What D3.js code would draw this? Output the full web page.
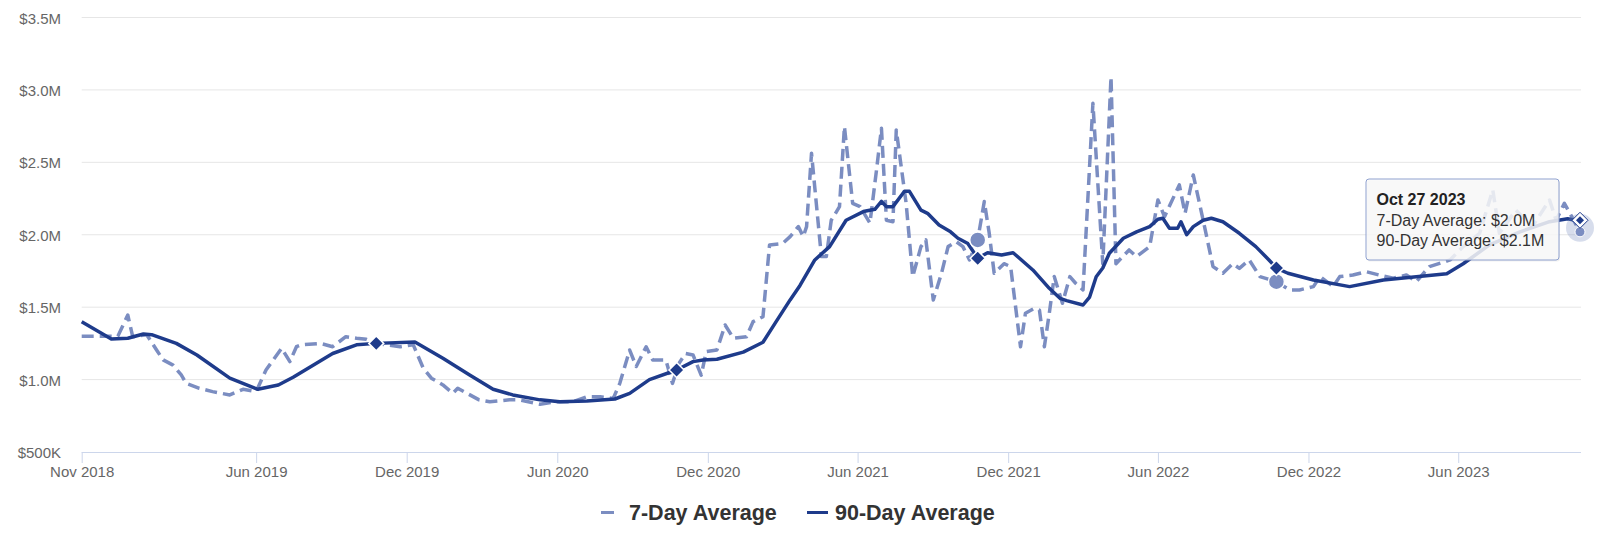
<!DOCTYPE html>
<html>
<head>
<meta charset="utf-8">
<script src="https://cdn.jsdelivr.net/npm/d3@7"></script>
<style>
  html, body { margin: 0; padding: 0; background: #ffffff; }
  svg { display: block; font-family: "Liberation Sans", Arial, Helvetica, sans-serif; }
</style>
</head>
<body>
<svg id="chart" width="1600" height="538"></svg>
<script>
// ---------------- DATA (values in $ millions) ----------------
const seriesNames = ["7-Day Average", "90-Day Average"];

const sevenDay = [
  ["2018-11-01",1.30],["2018-11-23",1.30],["2018-12-15",1.30],["2018-12-27",1.446],["2019-01-02",1.296],
  ["2019-01-19",1.31],["2019-01-31",1.204],["2019-02-08",1.136],["2019-02-20",1.10],["2019-03-02",1.032],
  ["2019-03-08",0.974],["2019-03-24",0.94],["2019-04-09",0.917],["2019-04-30",0.894],["2019-05-16",0.933],
  ["2019-06-01",0.917],["2019-06-13",1.066],["2019-07-02",1.216],["2019-07-12",1.124],["2019-07-20",1.227],
  ["2019-07-26",1.24],["2019-08-18",1.25],["2019-09-02",1.227],["2019-09-18",1.296],["2019-10-01",1.285],
  ["2019-10-13",1.278],["2019-10-25",1.25],["2019-11-23",1.227],["2019-12-09",1.24],["2019-12-21",1.08],
  ["2019-12-31",1.01],["2020-01-14",0.963],["2020-01-26",0.905],["2020-02-01",0.94],["2020-02-27",0.86],
  ["2020-03-11",0.847],["2020-04-04",0.86],["2020-04-16",0.86],["2020-05-11",0.83],["2020-05-31",0.847],
  ["2020-06-20",0.847],["2020-07-07",0.882],["2020-07-23",0.882],["2020-08-08",0.87],["2020-08-16",0.974],
  ["2020-08-28",1.204],["2020-09-05",1.09],["2020-09-17",1.227],["2020-09-25",1.135],["2020-10-11",1.135],
  ["2020-10-19",0.974],["2020-10-27",1.113],["2020-11-04",1.18],["2020-11-13",1.17],["2020-11-23",1.03],
  ["2020-11-29",1.193],["2020-12-12",1.204],["2020-12-22",1.377],["2021-01-01",1.285],["2021-01-17",1.296],
  ["2021-01-25",1.40],["2021-02-06",1.434],["2021-02-14",1.93],["2021-03-02",1.94],["2021-03-11",1.987],
  ["2021-03-21",2.056],["2021-03-27",1.987],["2021-03-31",2.056],["2021-04-06",2.563],["2021-04-18",1.849],
  ["2021-04-24",1.849],["2021-04-30",2.10],["2021-05-10",2.194],["2021-05-16",2.747],["2021-05-26",2.217],
  ["2021-06-04",2.194],["2021-06-16",2.08],["2021-06-24",2.447],["2021-06-30",2.735],["2021-07-06",2.10],
  ["2021-07-14",2.09],["2021-07-18",2.724],["2021-07-30",2.217],["2021-08-07",1.711],["2021-08-17",1.918],
  ["2021-08-23",1.964],["2021-09-01",1.55],["2021-09-11",1.734],["2021-09-19",1.918],["2021-09-29",1.952],
  ["2021-10-07",1.918],["2021-10-15",1.826],["2021-10-25",1.964],["2021-11-02",2.23],["2021-11-08",2.01],
  ["2021-11-14",1.734],["2021-11-26",1.80],["2021-12-04",1.78],["2021-12-16",1.227],["2021-12-22",1.458],
  ["2022-01-02",1.492],["2022-01-08",1.48],["2022-01-14",1.227],["2022-01-20",1.458],["2022-01-26",1.711],
  ["2022-02-05",1.527],["2022-02-14",1.711],["2022-02-21",1.665],["2022-03-02",1.619],["2022-03-14",2.908],
  ["2022-03-26",1.80],["2022-04-05",3.09],["2022-04-11",1.80],["2022-04-27",1.895],["2022-05-06",1.849],
  ["2022-05-22",1.918],["2022-06-01",2.24],["2022-06-09",2.125],["2022-06-27",2.344],["2022-07-04",2.148],
  ["2022-07-14",2.413],["2022-07-26",2.10],["2022-08-07",1.78],["2022-08-19",1.734],["2022-08-31",1.80],
  ["2022-09-08",1.768],["2022-09-20",1.826],["2022-10-03",1.711],["2022-10-23",1.676],["2022-11-08",1.619],
  ["2022-11-20",1.619],["2022-12-07",1.642],["2022-12-15",1.711],["2022-12-31",1.642],["2023-01-08",1.711],
  ["2023-01-24",1.722],["2023-02-09",1.745],["2023-02-25",1.722],["2023-03-14",1.70],["2023-03-30",1.722],
  ["2023-04-11",1.676],["2023-04-27",1.78],["2023-05-22",1.826],["2023-06-07",1.918],["2023-06-27",2.01],
  ["2023-07-13",2.31],["2023-07-21",2.01],["2023-08-10",2.17],["2023-08-30",2.056],["2023-09-20",2.24],
  ["2023-09-28",2.10],["2023-10-08",2.217],["2023-10-27",2.02]
];

const ninetyDay = [
  ["2018-11-01",1.40],["2018-12-07",1.28],["2018-12-27",1.285],["2019-01-15",1.315],["2019-01-25",1.31],
  ["2019-02-24",1.25],["2019-03-21",1.17],["2019-04-30",1.01],["2019-06-03",0.933],["2019-06-28",0.963],
  ["2019-07-16",1.016],["2019-09-02",1.18],["2019-10-01",1.24],["2019-10-25",1.25],["2019-12-11",1.26],
  ["2020-01-14",1.147],["2020-02-16",1.03],["2020-03-15",0.933],["2020-04-08",0.894],["2020-05-11",0.86],
  ["2020-06-04",0.847],["2020-07-07",0.852],["2020-08-10",0.866],["2020-08-28",0.905],["2020-09-21",1.0],
  ["2020-10-24",1.066],["2020-11-13",1.124],["2020-11-25",1.135],["2020-12-12",1.14],["2021-01-13",1.19],
  ["2021-02-06",1.258],["2021-02-22",1.40],["2021-03-11",1.55],["2021-03-23",1.65],["2021-04-10",1.826],
  ["2021-04-28",1.918],["2021-05-18",2.10],["2021-06-08",2.16],["2021-06-22",2.176],["2021-06-30",2.23],
  ["2021-07-06",2.194],["2021-07-14",2.194],["2021-07-28",2.30],["2021-08-03",2.30],["2021-08-17",2.17],
  ["2021-08-25",2.148],["2021-09-08",2.067],["2021-09-22",2.02],["2021-10-01",1.976],["2021-10-13",1.94],
  ["2021-10-25",1.838],["2021-11-06",1.876],["2021-11-23",1.86],["2021-12-07",1.876],["2021-12-31",1.757],
  ["2022-01-20",1.63],["2022-02-02",1.561],["2022-02-10",1.545],["2022-03-02",1.515],["2022-03-10",1.57],
  ["2022-03-18",1.71],["2022-03-26",1.77],["2022-04-03",1.872],["2022-04-20",1.976],["2022-05-06",2.02],
  ["2022-05-22",2.056],["2022-06-01",2.107],["2022-06-07",2.114],["2022-06-15",2.045],["2022-06-25",2.045],
  ["2022-06-29",2.09],["2022-07-06",2.0],["2022-07-14",2.056],["2022-07-26",2.10],["2022-08-05",2.114],
  ["2022-08-19",2.09],["2022-09-08",2.01],["2022-09-28",1.918],["2022-10-14",1.826],["2022-10-23",1.77],
  ["2022-11-06",1.734],["2022-12-07",1.688],["2023-01-20",1.642],["2023-03-02",1.688],["2023-04-11",1.71],
  ["2023-05-18",1.73],["2023-06-07",1.80],["2023-07-09",1.93],["2023-08-15",2.02],["2023-09-20",2.09],
  ["2023-10-12",2.11],["2023-10-21",2.10],["2023-10-27",2.10]
];

// highlighted yearly markers
const markerDates90 = ["2019-10-25","2020-10-24","2021-10-25","2022-10-23"];
const markerDates7 = ["2021-10-25","2022-10-23"];

const xTickDates = ["2018-11-01","2019-06-01","2019-12-01","2020-06-01","2020-12-01",
                    "2021-06-01","2021-12-01","2022-06-01","2022-12-01","2023-06-01"];
const yTickValues = [0.5, 1.0, 1.5, 2.0, 2.5, 3.0, 3.5];

const tooltipDate = "Oct 27 2023";
const tooltipLines = ["7-Day Average: $2.0M", "90-Day Average: $2.1M"];

// ---------------- CHART ----------------
const parse = d3.timeParse("%Y-%m-%d");
const c7 = "#7b8dc1", c90 = "#1e3b8b";

const svg = d3.select("#chart");
const x = d3.scaleTime()
  .domain([parse("2018-11-01"), parse("2023-10-27")])
  .range([81.7, 1580]);
const y = d3.scaleLinear().domain([0.5, 3.5]).range([452, 17.5]);

const d7 = sevenDay.map(d => ({date: parse(d[0]), v: d[1]}));
const d90 = ninetyDay.map(d => ({date: parse(d[0]), v: d[1]}));

// gridlines
svg.append("g").selectAll("line").data(yTickValues.slice(1)).join("line")
  .attr("x1", 81.7).attr("x2", 1581)
  .attr("y1", d => y(d)).attr("y2", d => y(d))
  .attr("stroke", "#e6e6e6").attr("stroke-width", 1);

// y labels
const fmtY = v => v < 1 ? "$" + Math.round(v * 1000) + "K" : "$" + v.toFixed(1) + "M";
svg.append("g").selectAll("text").data(yTickValues).join("text")
  .attr("x", 61).attr("y", d => y(d) + 6)
  .attr("text-anchor", "end")
  .attr("font-size", 15).attr("fill", "#666666")
  .text(fmtY);

// x axis
const xAxis = d3.axisBottom(x)
  .tickValues(xTickDates.map(parse))
  .tickFormat(d3.timeFormat("%b %Y"))
  .tickSize(11).tickSizeOuter(0);
const gx = svg.append("g").attr("transform", "translate(0,452)").call(xAxis);
gx.select(".domain").attr("stroke", "#ccd6eb").attr("d", "M81.7,0.5H1581");
gx.selectAll(".tick line").attr("stroke", "#ccd6eb");
gx.selectAll(".tick text").attr("font-size", 15).attr("fill", "#666666")
  .attr("font-family", "Liberation Sans, Arial, sans-serif").attr("dy", null).attr("y", 25);

// lines
const line = d3.line().x(d => x(d.date)).y(d => y(d.v));
svg.append("path").datum(d7).attr("d", line)
  .attr("fill", "none").attr("stroke", c7).attr("stroke-width", 3.5)
  .attr("stroke-dasharray", "12,6").attr("stroke-linejoin", "round");
svg.append("path").datum(d90).attr("d", line)
  .attr("fill", "none").attr("stroke", c90).attr("stroke-width", 3.5)
  .attr("stroke-linejoin", "round");

// markers
const find = (arr, s) => arr.find(d => +d.date === +parse(s));
svg.append("g").selectAll("circle").data(markerDates7.map(s => find(d7, s))).join("circle")
  .attr("cx", d => x(d.date)).attr("cy", d => y(d.v)).attr("r", 8)
  .attr("fill", c7).attr("stroke", "#ffffff").attr("stroke-width", 1.5);
const diamond = (cx, cy, r) => `M${cx},${cy - r}L${cx + r},${cy}L${cx},${cy + r}L${cx - r},${cy}Z`;
svg.append("g").selectAll("path").data(markerDates90.map(s => find(d90, s))).join("path")
  .attr("d", d => diamond(x(d.date), y(d.v), 7.5))
  .attr("fill", c90).attr("stroke", "#ffffff").attr("stroke-width", 1.5);

// hover state at last point
const last7 = d7[d7.length - 1], last90 = d90[d90.length - 1];
svg.append("circle").attr("cx", x(last7.date)).attr("cy", y(last7.v) - 4).attr("r", 14)
  .attr("fill", c7).attr("opacity", 0.3);
svg.append("circle").attr("cx", x(last7.date)).attr("cy", y(last7.v)).attr("r", 5)
  .attr("fill", c7).attr("stroke", "#ffffff").attr("stroke-width", 1);
svg.append("path").attr("d", diamond(x(last90.date), y(last90.v), 8))
  .attr("fill", "#ffffff").attr("stroke", c90).attr("stroke-width", 1);
svg.append("path").attr("d", diamond(x(last90.date), y(last90.v), 4)).attr("fill", c90);

// tooltip
const tt = svg.append("g").attr("transform", "translate(1366,179)");
tt.append("rect").attr("x", 1).attr("y", 1.5).attr("width", 193).attr("height", 81).attr("rx", 3)
  .attr("fill", "#000").attr("opacity", 0.06);
tt.append("rect").attr("width", 193).attr("height", 81).attr("rx", 3)
  .attr("fill", "rgba(249,249,249,0.85)").attr("stroke", "#8fa1cf").attr("stroke-width", 1);
tt.append("text").attr("x", 10.5).attr("y", 26).attr("font-size", 16).attr("font-weight", "bold")
  .attr("fill", "#222").text(tooltipDate);
tt.selectAll("text.l").data(tooltipLines).join("text").attr("class", "l")
  .attr("x", 10.5).attr("y", (d, i) => 47 + i * 20).attr("font-size", 16).attr("fill", "#333")
  .text(d => d);

// legend
const lg = svg.append("g");
lg.append("line").attr("x1", 601).attr("x2", 614).attr("y1", 512.5).attr("y2", 512.5)
  .attr("stroke", c7).attr("stroke-width", 3);
lg.append("text").attr("x", 629).attr("y", 520).attr("font-size", 21.5).attr("font-weight", "bold")
  .attr("fill", "#333333").text(seriesNames[0]);
lg.append("line").attr("x1", 807).attr("x2", 828).attr("y1", 512.5).attr("y2", 512.5)
  .attr("stroke", c90).attr("stroke-width", 3);
lg.append("text").attr("x", 835).attr("y", 520).attr("font-size", 21.5).attr("font-weight", "bold")
  .attr("fill", "#333333").text(seriesNames[1]);
</script>
</body>
</html>
